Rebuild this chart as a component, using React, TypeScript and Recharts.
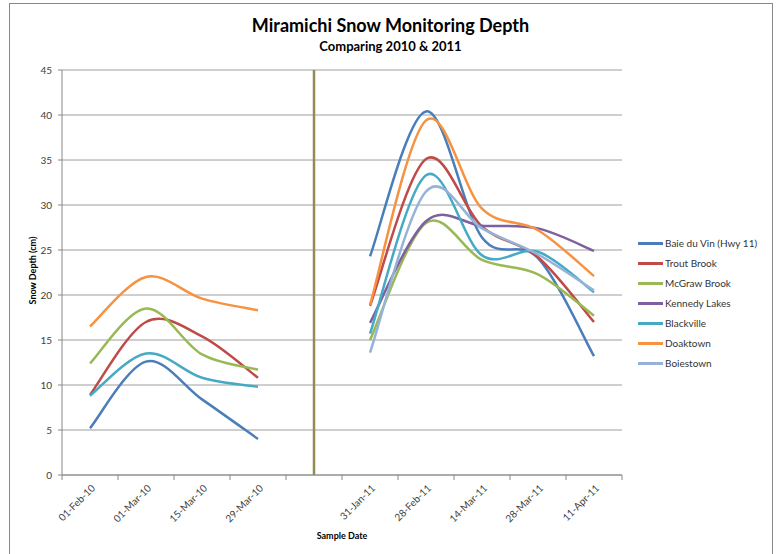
import {
  LineChart,
  Line,
  XAxis,
  YAxis,
  CartesianGrid,
  Legend,
  ReferenceLine,
} from "recharts";

const dates = [
  "01-Feb-10",
  "01-Mar-10",
  "15-Mar-10",
  "29-Mar-10",
  " ",
  "31-Jan-11",
  "28-Feb-11",
  "14-Mar-11",
  "28-Mar-11",
  "11-Apr-11",
];

const baieDuVin = [5.2, 12.6, 8.4, 4.0, null, 24.3, 40.4, 26.4, 24.1, 13.2];
const troutBrook = [8.9, 17.0, 15.4, 10.8, null, 18.8, 35.1, 27.6, 24.2, 17.0];
const mcgrawBrook = [12.4, 18.5, 13.4, 11.7, null, 15.0, 28.0, 23.9, 22.3, 17.7];
const kennedyLakes = [null, null, null, null, null, 16.9, 28.2, 27.7, 27.4, 24.9];
const blackville = [8.8, 13.5, 10.8, 9.8, null, 15.7, 33.3, 24.4, 24.8, 20.3];
const doaktown = [16.5, 22.0, 19.6, 18.3, null, 18.9, 39.4, 29.6, 27.2, 22.1];
const boiestown = [null, null, null, null, null, 13.6, 31.5, 27.4, 24.5, 20.5];

const yTicks = [0, 5, 10, 15, 20, 25, 30, 35, 40, 45];

const series = [
  { key: "baie", name: "Baie du Vin (Hwy 11)", values: baieDuVin, color: "#4A7EBB" },
  { key: "trout", name: "Trout Brook", values: troutBrook, color: "#BE4B48" },
  { key: "mcgraw", name: "McGraw Brook", values: mcgrawBrook, color: "#98B954" },
  { key: "kennedy", name: "Kennedy Lakes", values: kennedyLakes, color: "#7D60A0" },
  { key: "blackville", name: "Blackville", values: blackville, color: "#46AAC5" },
  { key: "doaktown", name: "Doaktown", values: doaktown, color: "#F69240" },
  { key: "boiestown", name: "Boiestown", values: boiestown, color: "#95B3D7" },
];

const data = dates.map((date, i) => {
  const row: Record<string, any> = { date };
  series.forEach((s) => (row[s.key] = s.values[i]));
  return row;
});

const FONT = "Lato, 'Open Sans', sans-serif";
const HALF_BAND = 28;

// excel-like smoothed line (catmull-rom through the points)
function excelSmooth(context: any) {
  let pts: number[][] = [];
  return {
    areaStart() {},
    areaEnd() {},
    lineStart() {
      pts = [];
    },
    point(x: number, y: number) {
      pts.push([+x, +y]);
    },
    lineEnd() {
      if (!pts.length) return;
      context.moveTo(pts[0][0], pts[0][1]);
      for (let i = 0; i < pts.length - 1; i++) {
        const p0 = pts[i - 1] || pts[i];
        const p1 = pts[i];
        const p2 = pts[i + 1];
        const p3 = pts[i + 2] || p2;
        context.bezierCurveTo(
          p1[0] + (p2[0] - p0[0]) / 6,
          p1[1] + (p2[1] - p0[1]) / 6,
          p2[0] - (p3[0] - p1[0]) / 6,
          p2[1] - (p3[1] - p1[1]) / 6,
          p2[0],
          p2[1]
        );
      }
    },
  };
}

function DateTick(props: any) {
  const { x, y, payload, index } = props;
  const axisY = y - 5;
  return (
    <g>
      <line x1={x - HALF_BAND} x2={x - HALF_BAND} y1={axisY} y2={axisY + 5} stroke="#888" />
      {index === dates.length - 1 && (
        <line x1={x + HALF_BAND} x2={x + HALF_BAND} y1={axisY} y2={axisY + 5} stroke="#888" />
      )}
      <text
        x={0}
        y={0}
        transform={`translate(${x + 3},${axisY + 11}) rotate(-45)`}
        textAnchor="end"
        dominantBaseline="central"
        fontSize={10}
        fill="#404040"
        fontFamily={FONT}
      >
        {payload.value}
      </text>
    </g>
  );
}

function LegendBox() {
  return (
    <div style={{ fontFamily: FONT, fontSize: 10, color: "#333", textAlign: "left" }}>
      {series.map((s) => (
        <div key={s.key} style={{ height: 20, display: "flex", alignItems: "center" }}>
          <div style={{ width: 25, height: 3, background: s.color, marginRight: 2 }} />
          <span>{s.name}</span>
        </div>
      ))}
    </div>
  );
}

export default function App() {
  return (
    <div
      style={{
        position: "absolute",
        left: 0,
        top: 0,
        width: 777,
        height: 554,
        background: "#fff",
        fontFamily: FONT,
        overflow: "hidden",
      }}
    >
      <div
        style={{
          position: "absolute",
          left: 9,
          top: 3,
          width: 762,
          height: 560,
          border: "1px solid #888",
        }}
      />
      <div
        style={{
          position: "absolute",
          left: 9,
          width: 763,
          top: 14,
          textAlign: "center",
          fontWeight: 700,
          fontSize: 18,
          color: "#000",
        }}
      >
        Miramichi Snow Monitoring Depth
      </div>
      <div
        style={{
          position: "absolute",
          left: 9,
          width: 763,
          top: 38,
          textAlign: "center",
          fontWeight: 700,
          fontSize: 13,
          color: "#000",
        }}
      >
        Comparing 2010 &amp; 2011
      </div>
      <div
        style={{
          position: "absolute",
          left: 32 - 100,
          top: 272 - 7,
          width: 200,
          textAlign: "center",
          fontWeight: 700,
          fontSize: 9,
          transform: "rotate(-90deg)",
        }}
      >
        Snow Depth (cm)
      </div>
      <div
        style={{
          position: "absolute",
          left: 242,
          top: 530,
          width: 200,
          textAlign: "center",
          fontWeight: 700,
          fontSize: 9,
        }}
      >
        Sample Date
      </div>
      <LineChart
        width={777}
        height={554}
        data={data}
        margin={{ top: 70, right: 16, bottom: 19, left: 0 }}
        style={{ position: "absolute", left: 0, top: 0 }}
      >
        <CartesianGrid vertical={false} stroke="#9e9e9e" />
        <XAxis
          dataKey="date"
          interval={0}
          height={60}
          padding={{ left: HALF_BAND, right: HALF_BAND }}
          tickSize={5}
          tickMargin={0}
          tickLine={false}
          axisLine={{ stroke: "#888" }}
          tick={<DateTick />}
        />
        <YAxis
          width={62}
          domain={[0, 45]}
          ticks={yTicks}
          interval={0}
          tickSize={4}
          tickMargin={6}
          axisLine={{ stroke: "#888" }}
          tickLine={{ stroke: "#888" }}
          tick={{ fontSize: 10, fill: "#404040", fontFamily: FONT }}
        />
        <ReferenceLine x=" " stroke="#948A54" strokeWidth={2.5} />
        <Legend
          layout="vertical"
          align="right"
          verticalAlign="middle"
          width={139}
          content={<LegendBox />}
          wrapperStyle={{ left: 638, top: 233, width: 139 }}
        />
        {series.map((s) => (
          <Line
            key={s.key}
            dataKey={s.key}
            name={s.name}
            type={excelSmooth as any}
            stroke={s.color}
            strokeWidth={2.5}
            dot={false}
            activeDot={false}
            isAnimationActive={false}
          />
        ))}
      </LineChart>
    </div>
  );
}
